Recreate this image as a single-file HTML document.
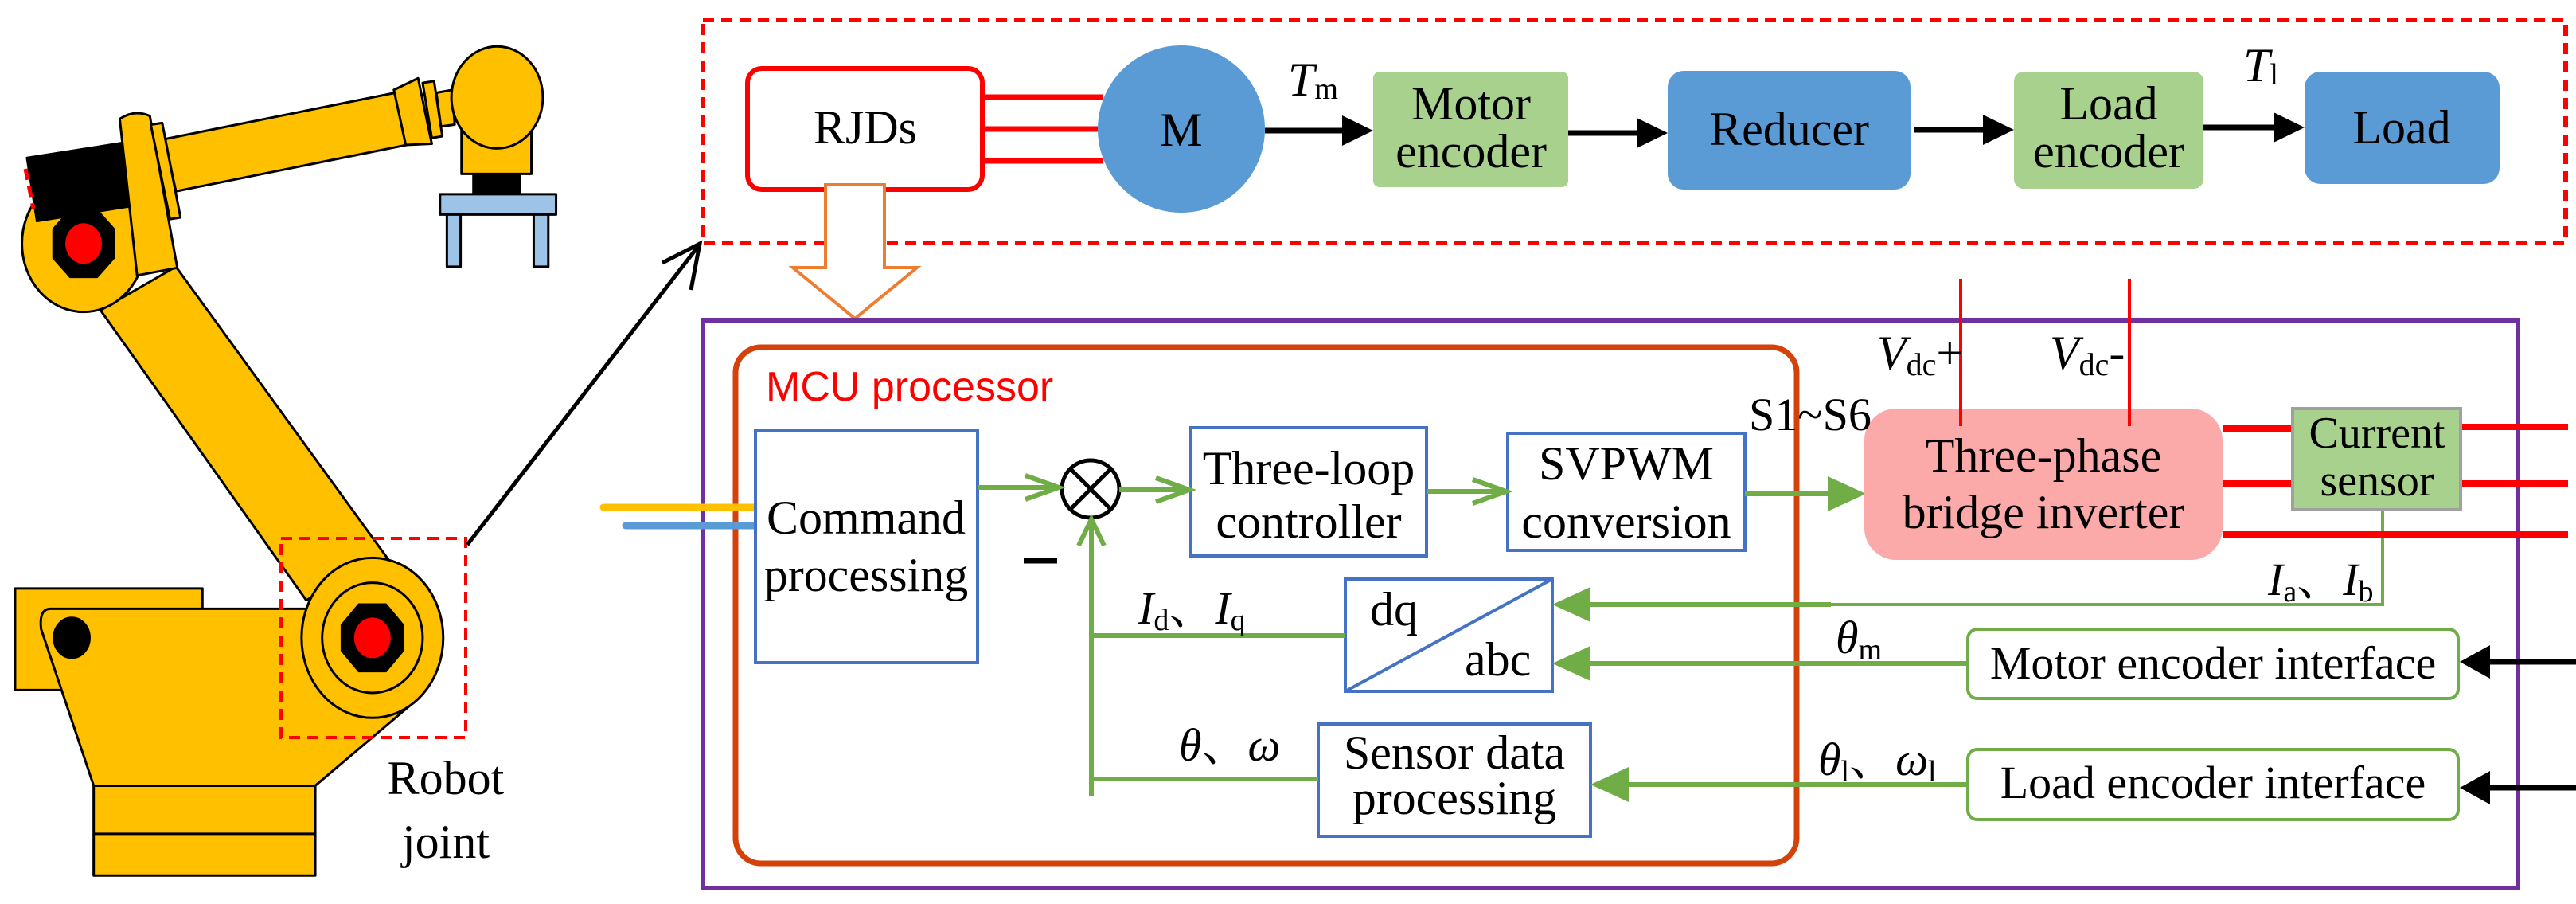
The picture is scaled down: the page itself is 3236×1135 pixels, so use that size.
<!DOCTYPE html>
<html><head><meta charset="utf-8"><style>
html,body{margin:0;padding:0;background:#fff;}
svg{display:block;}
svg text{font-family:"Liberation Serif","Noto Serif CJK SC","DejaVu Serif",serif;fill:#000;}
</style></head><body>
<svg width="3236" height="1135" viewBox="0 0 3236 1135" xmlns="http://www.w3.org/2000/svg">

<!-- ROBOT -->
<g transform="scale(0.574,0.728)" stroke="#000" stroke-width="3" stroke-linejoin="round">
 <rect x="33" y="1015" width="410" height="175" fill="#FFC000" vector-effect="non-scaling-stroke"/>
 <path d="M110,1050 L680,1050 L900,1215 L690,1355 L205,1355 L90,1085 Q85,1050 110,1050 z" fill="#FFC000" vector-effect="non-scaling-stroke"/>
 <rect x="205" y="1355" width="485" height="155" fill="#FFC000" vector-effect="non-scaling-stroke"/>
 <line x1="205" y1="1438" x2="690" y2="1438" vector-effect="non-scaling-stroke"/>
 <ellipse cx="157" cy="1100" rx="40" ry="35" fill="#000"/>
 <path d="M220,535 L385,460 L850,965 L670,1035 z" fill="#FFC000" vector-effect="non-scaling-stroke"/>
 <ellipse cx="815" cy="1100" rx="155" ry="138" fill="#FFC000" vector-effect="non-scaling-stroke"/>
 <ellipse cx="815" cy="1100" rx="110" ry="95" fill="#FFC000" vector-effect="non-scaling-stroke"/>
 <polygon points="785,1042 845,1042 883,1078 883,1122 845,1158 785,1158 747,1122 747,1078" fill="#000"/>
 <ellipse cx="815" cy="1100" rx="40" ry="35" fill="#f00" stroke="none"/>
 <ellipse cx="183" cy="420" rx="135" ry="118" fill="#FFC000" vector-effect="non-scaling-stroke"/>
 <polygon points="58,272 275,245 295,355 80,382" fill="#000"/>
 <polygon points="153,362 213,362 250,395 250,445 213,478 153,478 116,445 116,395" fill="#000"/>
 <ellipse cx="183" cy="420" rx="40" ry="35" fill="#f00" stroke="none"/>
 <path d="M360,240 L865,160 L890,250 L385,330 z" fill="#FFC000" vector-effect="non-scaling-stroke"/>
 <path d="M262,205 Q295,188 328,200 L388,462 L300,475 z" fill="#FFC000" vector-effect="non-scaling-stroke"/>
 <path d="M330,215 L355,212 L395,375 L372,378 z" fill="#FFC000" vector-effect="non-scaling-stroke"/>
 <path d="M862,155 L915,135 L945,248 L888,250 z" fill="#FFC000" vector-effect="non-scaling-stroke"/>
 <path d="M925,143 L950,140 L968,235 L945,238 z" fill="#FFC000" vector-effect="non-scaling-stroke"/>
 <path d="M955,160 L990,155 L995,215 L965,218 z" fill="#FFC000" vector-effect="non-scaling-stroke"/>
 <rect x="1010" y="200" width="153" height="100" fill="#FFC000" vector-effect="non-scaling-stroke"/>
 <ellipse cx="1088" cy="168" rx="100" ry="88" fill="#FFC000" vector-effect="non-scaling-stroke"/>
 <rect x="1035" y="300" width="103" height="35" fill="#000"/>
 <rect x="963" y="335" width="254" height="35" fill="#9DC3E6" vector-effect="non-scaling-stroke"/>
 <rect x="978" y="370" width="30" height="90" fill="#9DC3E6" vector-effect="non-scaling-stroke"/>
 <rect x="1168" y="370" width="32" height="90" fill="#9DC3E6" vector-effect="non-scaling-stroke"/>
</g>
<line x1="32" y1="212" x2="42" y2="262" stroke="#f00" stroke-width="5" stroke-dasharray="14 8"/>
<rect x="353" y="676" width="232" height="250" fill="none" stroke="#f00" stroke-width="4" stroke-dasharray="14 9"/>
<text x="560" y="997" font-size="60" text-anchor="middle">Robot</text>
<text x="560" y="1077" font-size="60" text-anchor="middle">joint</text>
<line x1="587" y1="684" x2="878" y2="308" stroke="#000" stroke-width="5"/>
<polyline points="832,330 879,306 868,364" fill="none" stroke="#000" stroke-width="5"/>

<!-- TOP DASHED BOX -->
<rect x="883" y="25" width="2340" height="280" fill="none" stroke="#f00" stroke-width="6" stroke-dasharray="14 9"/>
<rect x="939" y="86" width="295" height="152" rx="18" fill="#fff" stroke="#f00" stroke-width="6"/>
<text x="1087" y="180" font-size="60" text-anchor="middle">RJDs</text>
<g stroke="#f00" stroke-width="7"><line x1="1234" y1="122" x2="1385" y2="122"/><line x1="1234" y1="162" x2="1380" y2="162"/><line x1="1234" y1="202" x2="1385" y2="202"/></g>
<ellipse cx="1484" cy="162" rx="105" ry="105" fill="#5B9BD5"/>
<text x="1484" y="183" font-size="60" text-anchor="middle">M</text>
<text x="1618" y="120" font-size="60" font-style="italic">T<tspan font-size="38" font-style="normal" dy="4">m</tspan></text>
<rect x="1725" y="90" width="245" height="145" rx="8" fill="#A9D18E"/>
<text x="1848" y="150" font-size="60" text-anchor="middle">Motor</text>
<text x="1848" y="210" font-size="60" text-anchor="middle">encoder</text>
<rect x="2095" y="89" width="305" height="149" rx="20" fill="#5B9BD5"/>
<text x="2248" y="182" font-size="60" text-anchor="middle">Reducer</text>
<rect x="2530" y="90" width="238" height="147" rx="12" fill="#A9D18E"/>
<text x="2649" y="150" font-size="60" text-anchor="middle">Load</text>
<text x="2649" y="210" font-size="60" text-anchor="middle">encoder</text>
<rect x="2895" y="90" width="245" height="141" rx="20" fill="#5B9BD5"/>
<text x="3017" y="180" font-size="60" text-anchor="middle">Load</text>
<text x="2818" y="102" font-size="60" font-style="italic">T<tspan font-size="38" font-style="normal" dy="4">l</tspan></text>
<g stroke="#000" stroke-width="7">
 <line x1="1589" y1="164" x2="1690" y2="164"/>
 <line x1="1970" y1="167" x2="2060" y2="167"/>
 <line x1="2404" y1="163" x2="2495" y2="163"/>
 <line x1="2768" y1="160" x2="2860" y2="160"/>
</g>
<g fill="#000">
 <polygon points="1686,145 1725,164 1686,183"/>
 <polygon points="2056,148 2095,167 2056,186"/>
 <polygon points="2491,144 2530,163 2491,182"/>
 <polygon points="2856,141 2895,160 2856,179"/>
</g>
<polygon points="1037,232 1111,232 1111,336 1152,336 1074,400 996,336 1037,336" fill="#fff" stroke="#ED7D31" stroke-width="4"/>

<!-- PURPLE BOX -->
<rect x="883" y="402" width="2280" height="713" fill="none" stroke="#7030A0" stroke-width="6"/>
<rect x="924" y="436" width="1333" height="648" rx="32" fill="none" stroke="#D4420C" stroke-width="7"/>
<text x="962" y="503" font-size="52" style="font-family:'Liberation Sans',sans-serif;fill:#f00">MCU processor</text>
<line x1="758" y1="637" x2="950" y2="637" stroke="#FFC000" stroke-width="9" stroke-linecap="round"/>
<line x1="786" y1="660" x2="950" y2="660" stroke="#5B9BD5" stroke-width="9" stroke-linecap="round"/>
<g fill="#fff" stroke="#4472C4" stroke-width="4">
 <rect x="949" y="541" width="279" height="291"/>
 <rect x="1496" y="537" width="296" height="161"/>
 <rect x="1894" y="544" width="298" height="147"/>
 <rect x="1690" y="727" width="260" height="141"/>
 <rect x="1656" y="909" width="342" height="141"/>
</g>
<line x1="1690" y1="868" x2="1950" y2="727" stroke="#4472C4" stroke-width="4"/>
<text x="1088" y="670" font-size="60" text-anchor="middle">Command</text>
<text x="1088" y="742" font-size="60" text-anchor="middle">processing</text>
<text x="1644" y="608" font-size="60" text-anchor="middle">Three-loop</text>
<text x="1644" y="675" font-size="60" text-anchor="middle">controller</text>
<text x="2043" y="602" font-size="60" text-anchor="middle">SVPWM</text>
<text x="2043" y="675" font-size="60" text-anchor="middle">conversion</text>
<text x="1721" y="785" font-size="60">dq</text>
<text x="1840" y="848" font-size="60">abc</text>
<text x="1827" y="965" font-size="60" text-anchor="middle">Sensor data</text>
<text x="1827" y="1022" font-size="60" text-anchor="middle">processing</text>
<circle cx="1370" cy="614" r="36" fill="#fff" stroke="#000" stroke-width="5"/>
<line x1="1345" y1="589" x2="1395" y2="639" stroke="#000" stroke-width="5"/>
<line x1="1395" y1="589" x2="1345" y2="639" stroke="#000" stroke-width="5"/>
<line x1="1286" y1="704" x2="1328" y2="704" stroke="#000" stroke-width="7"/>
<g stroke="#70AD47" stroke-width="6" fill="none">
 <line x1="1228" y1="612" x2="1330" y2="612"/>
 <polyline points="1288,597 1330,612 1288,627"/>
 <line x1="1406" y1="615" x2="1494" y2="615"/>
 <polyline points="1452,600 1494,615 1452,630"/>
 <line x1="1792" y1="617" x2="1892" y2="617"/>
 <polyline points="1850,602 1892,617 1850,632"/>
 <line x1="2192" y1="620" x2="2300" y2="620"/>
 <polyline points="1371,1000 1371,655"/>
 <polyline points="1355,685 1371,652 1387,685"/>
 <line x1="1371" y1="798" x2="1690" y2="798"/>
 <line x1="1371" y1="978" x2="1656" y2="978"/>
 <line x1="1990" y1="833" x2="2472" y2="833"/>
 <line x1="2040" y1="985" x2="2472" y2="985"/>
</g>
<polyline points="2993,640 2993,759 1990,759" fill="none" stroke="#70AD47" stroke-width="4"/>
<line x1="1990" y1="759" x2="2300" y2="759" stroke="#70AD47" stroke-width="6"/>
<g fill="#70AD47">
 <polygon points="2296,598 2344,620 2296,642"/>
 <polygon points="1998,737 1950,759 1998,781"/>
 <polygon points="1998,811 1950,833 1998,855"/>
 <polygon points="2046,963 1998,985 2046,1007"/>
</g>
<rect x="2342" y="513" width="450" height="190" rx="40" fill="#FCA9A9"/>
<line x1="2463" y1="350" x2="2463" y2="535" stroke="#f00" stroke-width="4"/>
<line x1="2675" y1="350" x2="2675" y2="535" stroke="#f00" stroke-width="4"/>
<text x="2567" y="592" font-size="60" text-anchor="middle">Three-phase</text>
<text x="2567" y="663" font-size="60" text-anchor="middle">bridge inverter</text>
<g stroke="#f00" stroke-width="8">
 <line x1="2792" y1="538" x2="2880" y2="538"/>
 <line x1="2792" y1="607" x2="2880" y2="607"/>
 <line x1="2792" y1="671" x2="3226" y2="671"/>
 <line x1="3091" y1="536" x2="3226" y2="536"/>
 <line x1="3091" y1="607" x2="3226" y2="607"/>
</g>
<rect x="2880" y="513" width="211" height="127" fill="#A9D18E" stroke="#A0A0A0" stroke-width="4"/>
<text x="2986" y="562" font-size="56" text-anchor="middle">Current</text>
<text x="2986" y="622" font-size="56" text-anchor="middle">sensor</text>
<rect x="2472" y="790" width="616" height="87" rx="12" fill="#fff" stroke="#70AD47" stroke-width="4"/>
<text x="2780" y="852" font-size="58" text-anchor="middle">Motor encoder interface</text>
<rect x="2472" y="941" width="616" height="88" rx="12" fill="#fff" stroke="#70AD47" stroke-width="4"/>
<text x="2780" y="1002" font-size="58" text-anchor="middle">Load encoder interface</text>
<g stroke="#000" stroke-width="7">
 <line x1="3236" y1="831" x2="3120" y2="831"/>
 <line x1="3236" y1="989" x2="3120" y2="989"/>
</g>
<g fill="#000">
 <polygon points="3128,810 3090,831 3128,852"/>
 <polygon points="3128,968 3090,989 3128,1010"/>
</g>
<text x="2197" y="540" font-size="58">S1~S6</text>
<text x="2358" y="463" font-size="60" font-style="italic">V<tspan font-size="40" font-style="normal" dy="8">dc</tspan><tspan font-style="normal" dy="-8">+</tspan></text>
<text x="2575" y="463" font-size="60" font-style="italic">V<tspan font-size="40" font-style="normal" dy="8">dc</tspan><tspan font-style="normal" dy="-8">-</tspan></text>
<text x="1430" y="783" font-size="58" font-style="italic">I<tspan font-size="38" font-style="normal" dy="8">d</tspan><tspan font-style="normal" dy="-8">、</tspan>I<tspan font-size="38" font-style="normal" dy="8">q</tspan></text>
<text x="2849" y="747" font-size="58" font-style="italic">I<tspan font-size="38" font-style="normal" dy="8">a</tspan><tspan font-style="normal" dy="-8">、</tspan>I<tspan font-size="38" font-style="normal" dy="8">b</tspan></text>
<text x="1481" y="955" font-size="58" font-style="italic">θ<tspan font-style="normal">、</tspan>ω</text>
<text x="2306" y="820" font-size="58" font-style="italic">θ<tspan font-size="38" font-style="normal" dy="8">m</tspan></text>
<text x="2284" y="973" font-size="58" font-style="italic">θ<tspan font-size="38" font-style="normal" dy="8">l</tspan><tspan font-style="normal" dy="-8">、</tspan>ω<tspan font-size="38" font-style="normal" dy="8">l</tspan></text>
</svg>
</body></html>
